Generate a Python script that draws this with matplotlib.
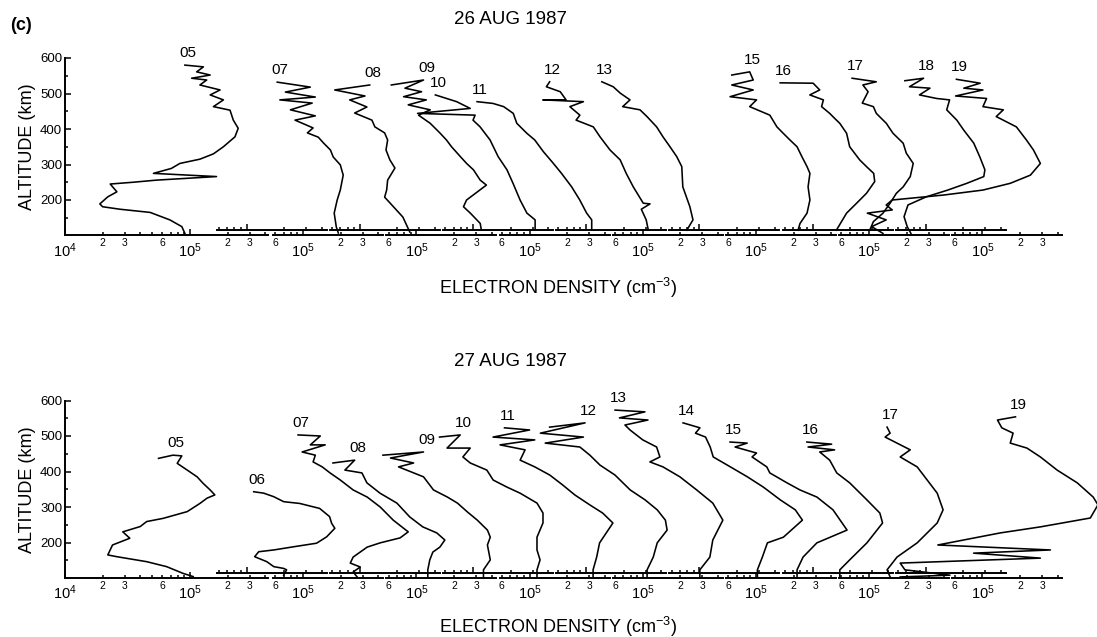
import matplotlib
matplotlib.use("Agg")
import matplotlib.pyplot as plt
from matplotlib.ticker import FixedLocator, FuncFormatter

plt.rcParams['font.family'] = ['Liberation Sans', 'DejaVu Sans']
plt.rcParams['mathtext.default'] = 'regular'

# electron density in units of 1e5 cm^-3, altitude in km
# ---- 26 AUG 1987 ----
alt26_05 = [580, 575, 561, 552, 543, 538, 524, 510, 496, 482, 463, 453, 425, 402, 378, 350, 330, 315, 303, 289,
            275, 266, 256, 250, 245, 223, 209, 189, 181, 174, 165, 144, 125, 106]
ne26_05 = [0.91, 1.28, 1.13, 1.45, 1.03, 1.36, 1.20, 1.74, 1.45, 1.85, 1.54, 2.09, 2.22, 2.43, 2.29, 1.85, 1.54, 1.20, 0.83, 0.71,
           0.51, 1.63, 0.54, 0.35, 0.23, 0.26, 0.22, 0.19, 0.20, 0.275, 0.48, 0.69, 0.86, 0.91]
alt26_07 = [532, 518, 504, 490, 482, 473, 454, 437, 425, 403, 389, 377, 361, 341, 321, 299, 270, 228, 200, 163, 124, 107]
ne26_07 = [0.62, 1.14, 0.72, 1.25, 0.65, 1.18, 0.79, 1.25, 0.86, 1.20, 1.08, 1.32, 1.45, 1.65, 1.74, 1.98, 2.09, 1.98, 1.87, 1.77, 1.84, 1.91]
alt26_08 = [524, 510, 493, 482, 462, 445, 425, 406, 389, 369, 341, 313, 290, 256, 228, 208, 192, 152, 110]
ne26_08 = [1.20, 0.63, 1.10, 0.83, 1.14, 0.91, 1.25, 1.32, 1.58, 1.67, 1.62, 1.74, 1.91, 1.67, 1.64, 1.58, 1.74, 2.21, 2.51]
alt26_09 = [524, 538, 515, 505, 491, 482, 468, 454, 439, 416, 388, 369, 350, 322, 303, 285, 256, 242, 200, 181, 163, 134, 115]
ne26_09 = [0.63, 1.14, 0.81, 1.10, 0.79, 1.20, 0.86, 1.29, 1.04, 1.29, 1.55, 1.74, 1.91, 2.25, 2.52, 2.86, 3.24, 3.63, 2.52, 2.38, 2.70, 3.24, 3.31]
alt26_10 = [496, 477, 458, 444, 439, 425, 406, 369, 322, 285, 247, 200, 163, 144, 115]
ne26_10 = [0.50, 0.74, 0.95, 0.36, 1.04, 1.00, 1.14, 1.37, 1.59, 1.87, 2.09, 2.38, 2.70, 3.14, 3.14]
alt26_11 = [477, 472, 463, 444, 416, 388, 369, 336, 303, 275, 237, 200, 163, 144, 115]
ne26_11 = [0.38, 0.51, 0.62, 0.74, 0.79, 0.95, 1.10, 1.29, 1.55, 1.80, 2.17, 2.52, 2.86, 3.14, 3.14]
alt26_12 = [533, 519, 505, 482, 482, 477, 463, 439, 425, 406, 378, 341, 313, 275, 237, 191, 189, 174, 144, 115]
ne26_12 = [0.51, 0.48, 0.62, 0.69, 0.45, 0.95, 0.74, 0.89, 0.83, 1.14, 1.29, 1.55, 1.87, 2.09, 2.38, 2.86, 3.24, 2.76, 3.02, 3.14]
alt26_13 = [533, 519, 501, 482, 463, 454, 435, 406, 378, 350, 322, 294, 237, 181, 144, 115]
ne26_13 = [0.47, 0.58, 0.66, 0.79, 0.69, 0.95, 1.08, 1.29, 1.45, 1.65, 1.87, 2.05, 2.09, 2.38, 2.52, 2.25]
alt26_15 = [552, 561, 538, 524, 510, 491, 482, 463, 439, 406, 388, 369, 350, 322, 294, 275, 237, 200, 163, 134, 115]
ne26_15 = [0.64, 0.89, 0.95, 0.64, 0.95, 0.62, 1.01, 0.89, 1.29, 1.47, 1.65, 1.87, 2.13, 2.33, 2.56, 2.70, 2.61, 2.70, 2.56, 2.25, 2.17]
alt26_16 = [530, 529, 510, 496, 482, 463, 444, 430, 416, 388, 350, 313, 294, 275, 252, 219, 191, 163, 115]
ne26_16 = [0.55, 1.01, 1.14, 0.95, 1.22, 1.18, 1.37, 1.50, 1.65, 1.87, 1.98, 2.38, 2.70, 3.08, 3.14, 2.70, 2.25, 1.87, 1.55]
alt26_17 = [543, 533, 524, 505, 473, 463, 444, 416, 388, 360, 332, 303, 266, 237, 219, 191, 163, 139, 115]
ne26_17 = [0.73, 1.14, 0.89, 0.98, 0.88, 1.08, 1.14, 1.37, 1.55, 1.87, 1.98, 2.25, 2.13, 1.87, 1.65, 1.47, 1.29, 1.08, 1.01]
alt26_18 = [536, 543, 519, 515, 496, 486, 482, 454, 425, 397, 360, 322, 285, 266, 247, 228, 209, 186, 153, 125, 106]
ne26_18 = [0.68, 0.96, 0.74, 1.08, 0.89, 1.22, 1.55, 1.47, 1.77, 2.01, 2.42, 2.70, 2.97, 2.91, 2.13, 1.50, 1.01, 0.72, 0.67, 0.71, 0.76]
alt26_19 = [540, 529, 515, 510, 493, 486, 463, 454, 435, 406, 369, 341, 303, 270, 247, 228, 214, 200, 186, 172, 163, 144, 125, 106]
ne26_19 = [0.62, 0.96, 0.71, 1.01, 0.61, 1.08, 1.01, 1.47, 1.29, 1.87, 2.25, 2.56, 2.91, 2.42, 1.67, 1.01, 0.49, 0.19, 0.17, 0.19, 0.12, 0.17, 0.13, 0.16]

# ---- 27 AUG 1987 ----
alt27_05 = [437, 446, 444, 423, 404, 385, 367, 348, 334, 325, 310, 287, 268, 259, 245, 230, 212, 193, 165, 160, 146, 132, 113, 104]
ne27_05 = [0.56, 0.73, 0.86, 0.79, 0.95, 1.14, 1.27, 1.45, 1.58, 1.37, 1.20, 0.95, 0.61, 0.45, 0.40, 0.29, 0.33, 0.24, 0.22, 0.26, 0.45, 0.65, 0.88, 1.06]
alt27_06 = [343, 339, 329, 315, 310, 296, 273, 254, 240, 216, 198, 188, 179, 174, 160, 146, 132, 127, 123, 108]
ne27_06 = [1.14, 1.37, 1.65, 1.98, 2.66, 3.84, 4.61, 4.79, 5.08, 4.37, 3.63, 2.38, 1.65, 1.25, 1.16, 1.45, 1.65, 1.98, 2.09, 1.98]
alt27_07 = [503, 500, 475, 475, 455, 446, 427, 413, 396, 376, 348, 328, 300, 263, 230, 213, 199, 187, 159, 142, 131, 117, 103]
ne27_07 = [0.91, 1.37, 1.14, 1.50, 0.98, 1.25, 1.20, 1.42, 1.64, 1.98, 2.51, 3.25, 4.13, 5.25, 6.92, 5.96, 4.13, 3.25, 2.51, 2.38, 2.86, 2.51, 2.70]
alt27_08 = [424, 432, 404, 396, 368, 339, 311, 272, 244, 227, 207, 187, 173, 151, 123, 103]
ne27_08 = [0.61, 0.91, 0.76, 1.04, 1.14, 1.45, 1.98, 2.51, 3.19, 4.13, 4.79, 4.37, 3.84, 3.63, 3.50, 3.50]
alt27_09 = [446, 455, 438, 424, 413, 385, 348, 328, 311, 286, 263, 235, 215, 193, 151, 123, 103]
ne27_09 = [0.54, 1.14, 0.62, 0.95, 0.72, 1.14, 1.37, 1.77, 2.13, 2.56, 3.07, 3.70, 3.90, 3.70, 3.90, 3.44, 3.44]
alt27_10 = [497, 503, 466, 466, 441, 424, 404, 376, 356, 339, 311, 283, 255, 215, 179, 151, 123, 103]
ne27_10 = [0.54, 0.79, 0.62, 0.95, 0.83, 0.95, 1.29, 1.45, 1.87, 2.38, 3.25, 3.63, 3.63, 3.25, 3.25, 3.44, 3.25, 3.25]
alt27_11 = [523, 517, 497, 489, 475, 461, 432, 413, 390, 362, 334, 306, 283, 255, 199, 159, 123, 103]
ne27_11 = [0.63, 1.00, 0.51, 1.10, 0.58, 0.92, 0.84, 1.10, 1.45, 1.84, 2.30, 3.03, 3.84, 4.64, 3.63, 3.44, 3.22, 3.22]
alt27_12 = [525, 537, 508, 497, 480, 469, 446, 418, 390, 348, 320, 292, 263, 235, 199, 159, 123, 103]
ne27_12 = [0.51, 0.98, 0.43, 0.95, 0.47, 0.89, 1.07, 1.29, 1.70, 2.25, 2.96, 3.70, 4.30, 4.44, 3.70, 3.44, 3.07, 3.07]
alt27_13 = [573, 568, 551, 545, 531, 517, 489, 469, 441, 427, 413, 385, 348, 311, 263, 207, 159, 123, 103]
ne27_13 = [0.60, 1.04, 0.65, 1.10, 0.72, 0.79, 1.00, 1.29, 1.37, 1.14, 1.45, 1.98, 2.70, 3.63, 4.37, 3.63, 3.44, 2.86, 2.86]
alt27_14 = [537, 523, 508, 497, 469, 441, 413, 385, 356, 320, 292, 263, 215, 199, 159, 123, 103]
ne27_14 = [0.74, 1.01, 0.93, 1.12, 1.22, 1.29, 1.77, 2.42, 3.25, 4.44, 5.85, 6.67, 4.70, 3.50, 3.19, 2.91, 2.91]
alt27_15 = [483, 480, 469, 452, 441, 413, 396, 368, 348, 328, 292, 235, 199, 159, 123, 103]
ne27_15 = [0.62, 0.85, 0.68, 1.01, 0.93, 1.22, 1.29, 1.77, 2.25, 3.07, 4.13, 5.35, 3.07, 2.38, 2.13, 2.13]
alt27_16 = [483, 477, 469, 461, 455, 432, 396, 368, 320, 283, 255, 199, 151, 123, 103]
ne27_16 = [0.90, 1.42, 0.92, 1.50, 1.14, 1.37, 1.56, 1.98, 2.72, 3.45, 3.63, 2.72, 1.98, 1.65, 1.65]
alt27_17 = [525, 508, 497, 461, 441, 413, 376, 339, 292, 255, 199, 159, 123, 103]
ne27_17 = [1.39, 1.47, 1.34, 2.13, 1.77, 2.42, 2.91, 3.50, 3.90, 3.50, 2.42, 1.67, 1.39, 1.47]
alt27_19 = [554, 545, 523, 508, 480, 466, 441, 404, 368, 328, 306, 269, 244, 227, 193, 179, 170, 156, 142, 123, 108, 103]
ne27_19 = [1.84, 1.32, 1.43, 1.76, 1.67, 2.27, 2.91, 3.96, 5.74, 7.7, 8.4, 7.3, 2.91, 1.39, 0.44, 3.50, 0.85, 2.91, 0.22, 0.24, 0.55, 0.22]

hours26 = ['05', '07', '08', '09', '10', '11', '12', '13', '15', '16', '17', '18', '19']
hours27 = ['05', '06', '07', '08', '09', '10', '11', '12', '13', '14', '15', '16', '17', '19']
data = globals()
profiles26 = {h: (data['ne26_' + h], data['alt26_' + h]) for h in hours26}
profiles27 = {h: (data['ne27_' + h], data['alt27_' + h]) for h in hours27}

W, H = 1097, 637
fig = plt.figure(figsize=(W / 100, H / 100), dpi=100)

DEC = 125.0      # pixels per decade
STEP = 56.6      # pixel shift per hour
LW = 1.15


def px_axes(x, ybot, w, h):
    return fig.add_axes([x / W, 1 - ybot / H, w / W, h / H])


def minor_fmt(lab):
    return FuncFormatter(lambda v, p: lab.get(round(v / 1e4), ''))


def panel(ybot, profiles, title, title_y, xlab_y):
    h_px = 177.5
    # main axis 1e4 .. ~4.2e5
    ax0 = px_axes(65, ybot, 203, h_px)
    ax0.set_xscale('log')
    ax0.set_xlim(1e4, 1e4 * 10 ** (203 / DEC))
    ax0.set_ylim(100, 600)
    ax0.set_facecolor('none')
    for s in ('top', 'right'):
        ax0.spines[s].set_visible(False)
    for s in ('left', 'bottom'):
        ax0.spines[s].set_linewidth(1.4)
    ax0.xaxis.set_major_locator(FixedLocator([1e4, 1e5]))
    ax0.xaxis.set_major_formatter(FuncFormatter(lambda v, p: '$10^4$' if v < 5e4 else '$10^5$'))
    ax0.xaxis.set_minor_locator(FixedLocator([2e4, 3e4, 4e4, 5e4, 6e4, 7e4, 8e4, 9e4, 2e5, 3e5, 4e5]))
    ax0.xaxis.set_minor_formatter(minor_fmt({2: '2', 3: '3', 6: '6', 20: '2', 30: '3'}))
    ax0.set_yticks([200, 300, 400, 500, 600])
    ax0.set_yticks([150, 250, 350, 450, 550], minor=True)
    ax0.tick_params(axis='x', which='major', direction='in', length=4, width=1.1, labelsize=10.5, pad=4)
    ax0.tick_params(axis='x', which='minor', direction='in', length=2.5, width=1.1, labelsize=7.5, pad=2)
    ax0.tick_params(axis='y', which='major', direction='in', length=4, width=1.1, labelsize=9.5, pad=2)
    ax0.tick_params(axis='y', which='minor', direction='in', length=2.5, width=1.1)
    ax0.set_ylabel('ALTITUDE (km)', fontsize=13, labelpad=3)

    axes = {5: ax0}
    for hr in range(6, 20):
        x0 = 190 + STEP * (hr - 5)
        ax = px_axes(x0 - 30, ybot, 110, h_px)
        ax.set_xscale('log')
        ax.set_xlim(1e5 * 10 ** (-30 / DEC), 1e5 * 10 ** (80 / DEC))
        ax.set_ylim(100, 600)
        ax.set_facecolor('none')
        ax.set_yticks([])
        for s in ('top', 'right', 'left'):
            ax.spines[s].set_visible(False)
        ax.spines['bottom'].set_linewidth(1.4)
        upper = (hr % 2 == 0)
        if upper:
            ax.spines['bottom'].set_position(('axes', 5 / h_px))
        ax.xaxis.set_major_locator(FixedLocator([1e5]))
        ax.xaxis.set_major_formatter(FuncFormatter(lambda v, p: '$10^5$'))
        ax.xaxis.set_minor_locator(FixedLocator([6e4, 7e4, 8e4, 9e4, 2e5, 3e5, 4e5]))
        ax.xaxis.set_minor_formatter(minor_fmt({6: '6', 20: '2', 30: '3'}))
        ax.tick_params(axis='x', which='major', direction='in', length=4, width=1.1, labelsize=10.5, pad=4,
                       labelbottom=not upper)
        ax.tick_params(axis='x', which='minor', direction='in', length=2.5, width=1.1, labelsize=7.5, pad=2,
                       labelbottom=not upper)
        axes[hr] = ax

    for hr, (ne, alt) in profiles.items():
        ax = axes[int(hr)]
        n = [v * 1e5 for v in ne]
        ax.plot(n, alt, color='black', lw=LW, clip_on=False)
        i = alt.index(max(alt))
        ax.annotate(hr, (n[i], alt[i]), xytext=(3, 5), textcoords='offset pixels',
                    ha='center', va='bottom', fontsize=11, annotation_clip=False)

    fig.text(510 / W, 1 - title_y / H, title, ha='center', va='center', fontsize=13.5)
    fig.text(558 / W, 1 - xlab_y / H, 'ELECTRON DENSITY (cm$^{-3}$)', ha='center', va='center', fontsize=13)


panel(235.5, profiles26, '26 AUG 1987', 20, 288)
panel(578, profiles27, '27 AUG 1987', 361, 627)
fig.text(21 / W, 1 - 26 / H, '(c)', ha='center', va='center', fontsize=13, fontweight='bold')

fig.savefig('out.png', dpi=100)
